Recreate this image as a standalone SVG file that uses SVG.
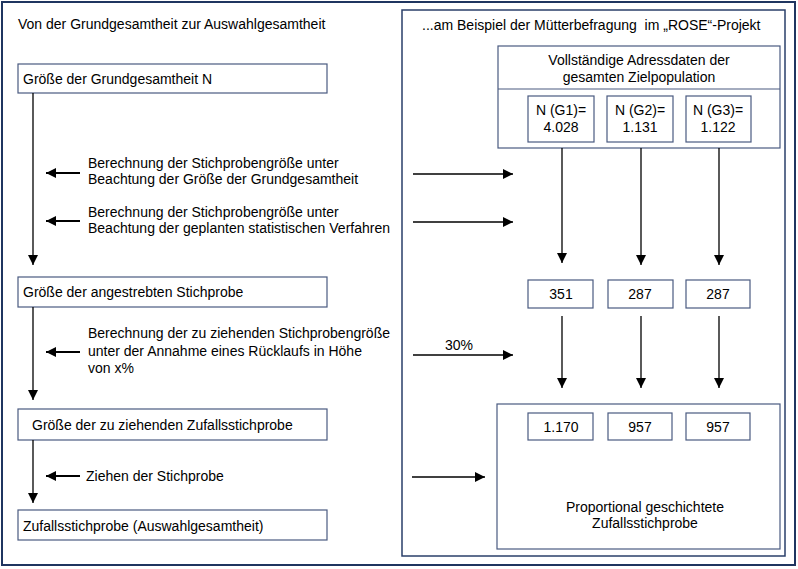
<svg xmlns="http://www.w3.org/2000/svg" width="798" height="569" viewBox="0 0 798 569">
<style>
text{font-family:"Liberation Sans",Arial,sans-serif;font-size:14px;fill:#000}
.c{text-anchor:middle}
.box{fill:#fff;stroke:#4a5a80;stroke-width:1.2}
.frame{fill:none;stroke:#1f3560;stroke-width:2}
.panel{fill:none;stroke:#2a3f6a;stroke-width:1.5}
.ln{stroke:#000;stroke-width:1.3;fill:none}
.bl{stroke:#000;stroke-width:2.2;fill:none}
</style>
<defs>
<marker id="ah" viewBox="0 0 10 10" refX="10" refY="5" markerWidth="10" markerHeight="10" markerUnits="userSpaceOnUse" orient="auto">
<path d="M0,0 L10,5 L0,10 Z" fill="#000"/>
</marker>
</defs>
<rect width="798" height="569" fill="#fff"/>
<rect class="frame" x="2" y="2" width="793" height="563"/>
<rect class="panel" x="402" y="10" width="383" height="546"/>
<text x="18" y="29">Von der Grundgesamtheit zur Auswahlgesamtheit</text>
<text x="422" y="30" xml:space="preserve">...am Beispiel der Mütterbefragung  im „ROSE“-Projekt</text>

<g id="n-grund"><rect class="box" x="18" y="64" width="309" height="29"/><text x="23" y="84">Größe der Grundgesamtheit N</text></g>
<g id="n-angestrebt"><rect class="box" x="18" y="277" width="309" height="30"/><text x="23" y="297">Größe der angestrebten Stichprobe</text></g>
<g id="n-ziehend"><rect class="box" x="18" y="409" width="309" height="31"/><text x="32" y="430">Größe der zu ziehenden Zufallsstichprobe</text></g>
<g id="n-zufall"><rect class="box" x="18" y="510" width="309" height="30"/><text x="23" y="531">Zufallsstichprobe (Auswahlgesamtheit)</text></g>

<g id="t-berech1"><text x="88" y="168">Berechnung der Stichprobengröße unter</text><text x="88" y="184">Beachtung der Größe der Grundgesamtheit</text></g>
<g id="t-berech2"><text x="88" y="217">Berechnung der Stichprobengröße unter</text><text x="88" y="233">Beachtung der geplanten statistischen Verfahren</text></g>
<g id="t-berech3"><text x="88" y="338">Berechnung der zu ziehenden Stichprobengröße</text><text x="88" y="356">unter der Annahme eines Rücklaufs in Höhe</text><text x="88" y="373">von x%</text></g>
<g id="t-ziehen"><text x="86" y="481">Ziehen der Stichprobe</text></g>

<g id="n-adress"><rect class="box" x="498" y="46" width="282" height="102"/><line class="box" x1="498" y1="89" x2="780" y2="89"/><text class="c" x="639" y="65">Vollständige Adressdaten der</text><text class="c" x="639" y="82">gesamten Zielpopulation</text></g>
<g id="n-g1"><rect class="box" x="528" y="96" width="66" height="46"/><text class="c" x="561" y="115">N (G1)=</text><text class="c" x="561" y="132">4.028</text></g>
<g id="n-g2"><rect class="box" x="607" y="96" width="66" height="46"/><text class="c" x="640" y="115">N (G2)=</text><text class="c" x="640" y="132">1.131</text></g>
<g id="n-g3"><rect class="box" x="686" y="96" width="65" height="46"/><text class="c" x="718" y="115">N (G3)=</text><text class="c" x="718" y="132">1.122</text></g>

<g id="n-s1"><rect class="box" x="528" y="280" width="65" height="28"/><text class="c" x="561" y="299">351</text></g>
<g id="n-s2"><rect class="box" x="608" y="280" width="65" height="28"/><text class="c" x="640" y="299">287</text></g>
<g id="n-s3"><rect class="box" x="686" y="280" width="64" height="28"/><text class="c" x="718" y="299">287</text></g>

<g id="n-prop"><rect class="box" x="497" y="404" width="283" height="145"/><text class="c" x="645" y="512">Proportional geschichtete</text><text class="c" x="645" y="528">Zufallsstichprobe</text></g>
<g id="n-z1"><rect class="box" x="528" y="413" width="65" height="27"/><text class="c" x="561" y="432">1.170</text></g>
<g id="n-z2"><rect class="box" x="608" y="413" width="64" height="27"/><text class="c" x="640" y="432">957</text></g>
<g id="n-z3"><rect class="box" x="686" y="413" width="64" height="27"/><text class="c" x="718" y="432">957</text></g>

<g id="connectors">
<line class="ln" x1="33" y1="93" x2="33" y2="265" marker-end="url(#ah)"/>
<line class="ln" x1="33" y1="307" x2="33" y2="400" marker-end="url(#ah)"/>
<line class="ln" x1="33" y1="440" x2="33" y2="503" marker-end="url(#ah)"/>
<line class="bl" x1="80" y1="173" x2="46" y2="173" marker-end="url(#ah)"/>
<line class="bl" x1="80" y1="221" x2="46" y2="221" marker-end="url(#ah)"/>
<line class="bl" x1="80" y1="352" x2="46" y2="352" marker-end="url(#ah)"/>
<line class="bl" x1="80" y1="476" x2="46" y2="476" marker-end="url(#ah)"/>
<line class="ln" x1="413" y1="174" x2="513" y2="174" marker-end="url(#ah)"/>
<line class="ln" x1="413" y1="222" x2="513" y2="222" marker-end="url(#ah)"/>
<line class="ln" x1="413" y1="355" x2="513" y2="355" marker-end="url(#ah)"/>
<text x="445" y="350">30%</text>
<line class="ln" x1="412" y1="477" x2="485" y2="477" marker-end="url(#ah)"/>
<line class="ln" x1="562" y1="148" x2="562" y2="263" marker-end="url(#ah)"/>
<line class="ln" x1="641" y1="148" x2="641" y2="265" marker-end="url(#ah)"/>
<line class="ln" x1="719" y1="148" x2="719" y2="265" marker-end="url(#ah)"/>
<line class="ln" x1="562" y1="316" x2="562" y2="388" marker-end="url(#ah)"/>
<line class="ln" x1="641" y1="316" x2="641" y2="388" marker-end="url(#ah)"/>
<line class="ln" x1="719" y1="316" x2="719" y2="388" marker-end="url(#ah)"/>
</g>
</svg>
